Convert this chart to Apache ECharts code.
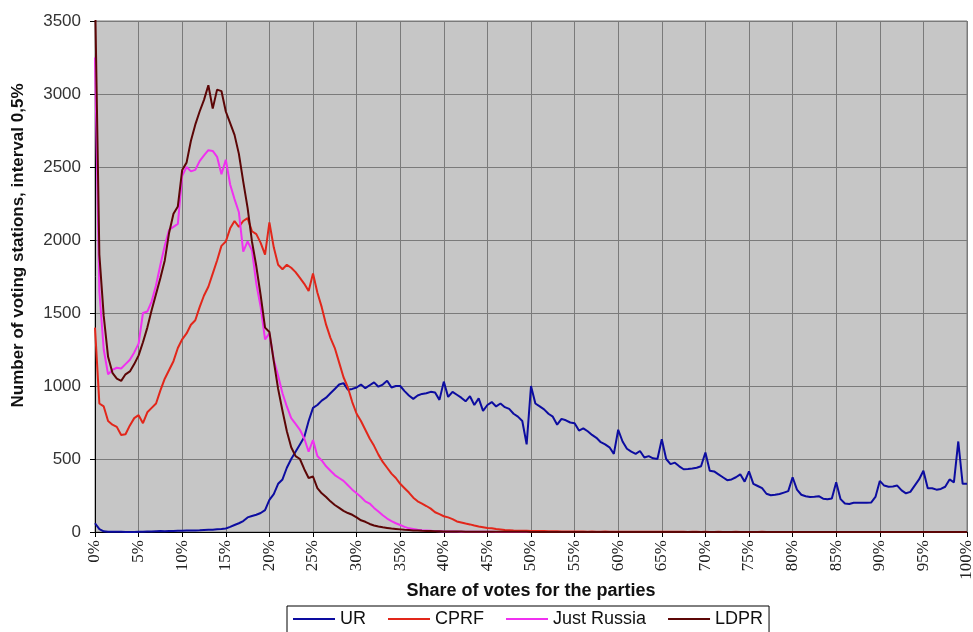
<html>
<head>
    <meta charset="utf-8">
    <title>Share of votes for the parties</title>
    <script src="https://cdn.jsdelivr.net/npm/echarts@6.0.0/dist/echarts.min.js"></script>
    <style>
        html, body { margin: 0; padding: 0; background: #fff; }
    </style>
</head>
<body>
<div id="main" style="width: 973px;height:632px;"></div>
<script>
    // number of voting stations per 0.5% bin, bins 0% .. 100%
    var binStep = 0.5;

    var ur = [
        60, 20, 5, 2, 2, 1, 1, 0, 0, 0,
        1, 2, 3, 4, 5, 6, 5, 6, 7, 8,
        9, 10, 10, 11, 12, 14, 15, 16, 18, 20,
        24, 35, 48, 60, 75, 100, 110, 118, 130, 150,
        220, 260, 330, 360, 440, 500, 550, 600, 650, 760,
        850, 870, 900, 920, 950, 980, 1010, 1020, 975, 980,
        990, 1010, 985, 1005, 1025, 995, 1010, 1036, 990, 1000,
        1000, 965, 935, 912, 935, 946, 950, 960, 955, 905,
        1030, 925, 960, 940, 920, 895, 930, 870, 915, 830,
        870, 890, 860, 880, 855, 843, 810, 790, 760, 600,
        1000, 880, 860, 840, 810, 790, 735, 775, 765, 750,
        745, 695, 710, 690, 665, 645, 615, 600, 580, 535,
        700, 620, 570, 550, 535, 555, 510, 520, 505, 500,
        635, 500, 465, 475, 450, 430, 432, 435, 440, 450,
        545, 420, 415, 395, 375, 355, 360, 375, 395, 345,
        415, 330, 315, 300, 262, 252, 255, 260, 270, 280,
        375, 290, 255, 245, 240, 242, 245, 228, 225, 230,
        340, 225, 195, 192, 200, 200, 200, 200, 202, 240,
        350, 318, 310, 312, 318, 285, 265, 275, 318, 360,
        420, 300, 300, 290, 295, 310, 360, 340, 620, 330,
        330
    ];

    var cprf = [
        1400, 880, 860, 760, 735, 720, 665, 670, 730, 780,
        800, 745, 820, 850, 880, 970, 1050, 1110, 1170, 1260,
        1320, 1360, 1420, 1450, 1540, 1620, 1680, 1770, 1860, 1960,
        1990, 2080, 2130, 2090, 2130, 2150, 2060, 2040, 1980, 1900,
        2120, 1950, 1830, 1800, 1830, 1810, 1780, 1740, 1700, 1650,
        1770, 1640, 1540, 1420, 1330, 1260, 1160, 1060, 990, 890,
        810, 760, 700, 640, 590, 530, 480, 440, 400, 370,
        330, 300, 270, 235, 210, 195, 178, 160, 135, 122,
        108, 100, 88, 72, 65, 58, 52, 44, 38, 33,
        28, 25, 20, 17, 14, 12, 10, 9, 8, 8,
        7, 7, 6, 6, 5, 5, 5, 4, 4, 3,
        4, 3, 3, 2, 3, 2, 2, 3, 2, 2,
        2, 2, 1, 2, 1, 1, 2, 1, 1, 1,
        1, 1, 1, 2, 1, 1, 0, 1, 1, 0,
        1, 0, 0, 1, 0, 0, 0, 1, 0, 0,
        0, 0, 0, 1, 0, 0, 0, 0, 0, 0,
        0, 0, 0, 0, 0, 0, 0, 0, 0, 0,
        0, 0, 0, 0, 0, 0, 0, 0, 0, 0,
        0, 0, 0, 0, 0, 0, 0, 0, 0, 0,
        0, 0, 0, 0, 0, 0, 0, 0, 0, 0,
        0
    ];

    var justRussia = [
        3250, 1650, 1250, 1080, 1110, 1125, 1120, 1150, 1180, 1230,
        1290, 1500, 1510, 1580, 1690, 1830, 1960, 2070, 2090, 2110,
        2440, 2500, 2470, 2480, 2540, 2580, 2615, 2610, 2570, 2450,
        2550, 2380, 2280, 2190, 1920, 1990, 1930, 1700, 1540, 1320,
        1360, 1180, 1070, 950, 860, 780, 740, 700, 640, 550,
        630, 520, 490, 450, 420, 390, 370, 350, 320, 290,
        265, 240, 210, 195, 165, 140, 115, 92, 75, 60,
        48, 35, 25, 20, 15, 12, 10, 8, 6, 5,
        4, 4, 3, 3, 2, 2, 2, 1, 1, 1,
        1, 1, 0, 0, 0, 0, 0, 0, 0, 0,
        0, 0, 0, 0, 0, 0, 0, 0, 0, 0,
        0, 0, 0, 0, 0, 0, 0, 0, 0, 0,
        0, 0, 0, 0, 0, 0, 0, 0, 0, 0,
        0, 0, 0, 0, 0, 0, 0, 0, 0, 0,
        0, 0, 0, 0, 0, 0, 0, 0, 0, 0,
        0, 0, 0, 0, 0, 0, 0, 0, 0, 0,
        0, 0, 0, 0, 0, 0, 0, 0, 0, 0,
        0, 0, 0, 0, 0, 0, 0, 0, 0, 0,
        0, 0, 0, 0, 0, 0, 0, 0, 0, 0,
        0, 0, 0, 0, 0, 0, 0, 0, 0, 0,
        0
    ];

    var ldpr = [
        3700, 1900, 1480, 1200, 1090, 1050, 1035, 1080, 1100, 1150,
        1210, 1300, 1400, 1520, 1630, 1740, 1860, 2050, 2180, 2230,
        2480, 2530, 2680, 2790, 2880, 2960, 3060, 2900, 3030, 3020,
        2880, 2800, 2720, 2590, 2400, 2220, 1990, 1820, 1620, 1400,
        1370, 1170, 980, 830, 690, 580, 520, 500, 430, 370,
        380, 300, 265, 240, 210, 185, 165, 145, 130, 118,
        100, 80, 70, 55, 45, 38, 32, 28, 24, 21,
        18, 15, 13, 11, 10, 8, 7, 6, 5, 5,
        4, 4, 3, 3, 3, 2, 2, 2, 2, 2,
        1, 1, 1, 1, 1, 1, 1, 1, 1, 1,
        0, 0, 0, 0, 0, 0, 0, 0, 0, 0,
        0, 0, 0, 0, 0, 0, 0, 0, 0, 0,
        0, 0, 0, 0, 0, 0, 0, 0, 0, 0,
        0, 0, 0, 0, 0, 0, 0, 0, 0, 0,
        0, 0, 0, 0, 0, 0, 0, 0, 0, 0,
        0, 0, 0, 0, 0, 0, 0, 0, 0, 0,
        0, 0, 0, 0, 0, 0, 0, 0, 0, 0,
        0, 0, 0, 0, 0, 0, 0, 0, 0, 0,
        0, 0, 0, 0, 0, 0, 0, 0, 0, 0,
        0, 0, 0, 0, 0, 0, 0, 0, 0, 0,
        0
    ];

    var seriesNames = ['UR', 'CPRF', 'Just Russia', 'LDPR'];
    var seriesColors = ['#0c0ca0', '#e2261a', '#f030f0', '#5c0606'];
    var seriesData = [ur, cprf, justRussia, ldpr];

    // pair every bin value with its share (left edge of the 0.5% bin)
    function toPairs(values) {
        return values.map(function (v, i) { return [i * binStep, v]; });
    }

    var myChart = echarts.init(document.getElementById('main'));

    myChart.setOption({
        animation: false,
        textStyle: { fontFamily: 'Liberation Sans, Arial, sans-serif' },
        grid: {
            left: 95, right: 6, top: 21, bottom: 100,
            outerBoundsMode: 'none',
            containLabel: false,
            show: true,
            backgroundColor: '#c6c6c6',
            borderColor: '#7a7a7a',
            borderWidth: 1
        },
        legend: {
            data: seriesNames,
            left: 287,
            top: 606,
            orient: 'horizontal',
            icon: 'rect',
            borderColor: '#000',
            borderWidth: 1,
            padding: [4, 6, 8, 6],
            itemWidth: 42,
            itemHeight: 2,
            itemGap: 22,
            textStyle: { fontSize: 18, color: '#111' }
        },
        xAxis: {
            type: 'value',
            min: 0,
            max: 100,
            interval: 5,
            name: 'Share of votes for the parties',
            nameLocation: 'middle',
            nameMoveOverlap: false,
            nameGap: 50,
            nameTextStyle: { fontSize: 18, fontWeight: 'bold', color: '#111' },
            axisLine: { show: true, lineStyle: { color: '#000', width: 1 } },
            axisTick: { show: true, length: 5, lineStyle: { color: '#000' } },
            axisLabel: {
                rotate: 90,
                margin: 8,
                fontSize: 17,
                fontFamily: 'Liberation Serif, Times New Roman, serif',
                color: '#222',
                formatter: '{value}%'
            },
            splitLine: { show: true, lineStyle: { color: '#7a7a7a', width: 1 } }
        },
        yAxis: {
            type: 'value',
            min: 0,
            max: 3500,
            interval: 500,
            name: 'Number of voting stations, interval 0,5%',
            nameLocation: 'middle',
            nameMoveOverlap: false,
            nameGap: 68,
            nameTextStyle: { fontSize: 17, fontWeight: 'bold', color: '#111', padding: [0, 0, 0, 62] },
            axisLine: { show: true, lineStyle: { color: '#000', width: 1 } },
            axisTick: { show: true, length: 5, lineStyle: { color: '#000' } },
            axisLabel: {
                fontSize: 17,
                color: '#333',
                margin: 14,
                formatter: function (v) { return String(v); }
            },
            splitLine: { show: true, lineStyle: { color: '#7a7a7a', width: 1 } }
        },
        series: seriesNames.map(function (name, k) {
            return {
                name: name,
                type: 'line',
                symbol: 'none',
                clip: true,
                color: seriesColors[k],
                lineStyle: { width: 2, color: seriesColors[k] },
                data: toPairs(seriesData[k])
            };
        })
    });
</script>
</body>
</html>
